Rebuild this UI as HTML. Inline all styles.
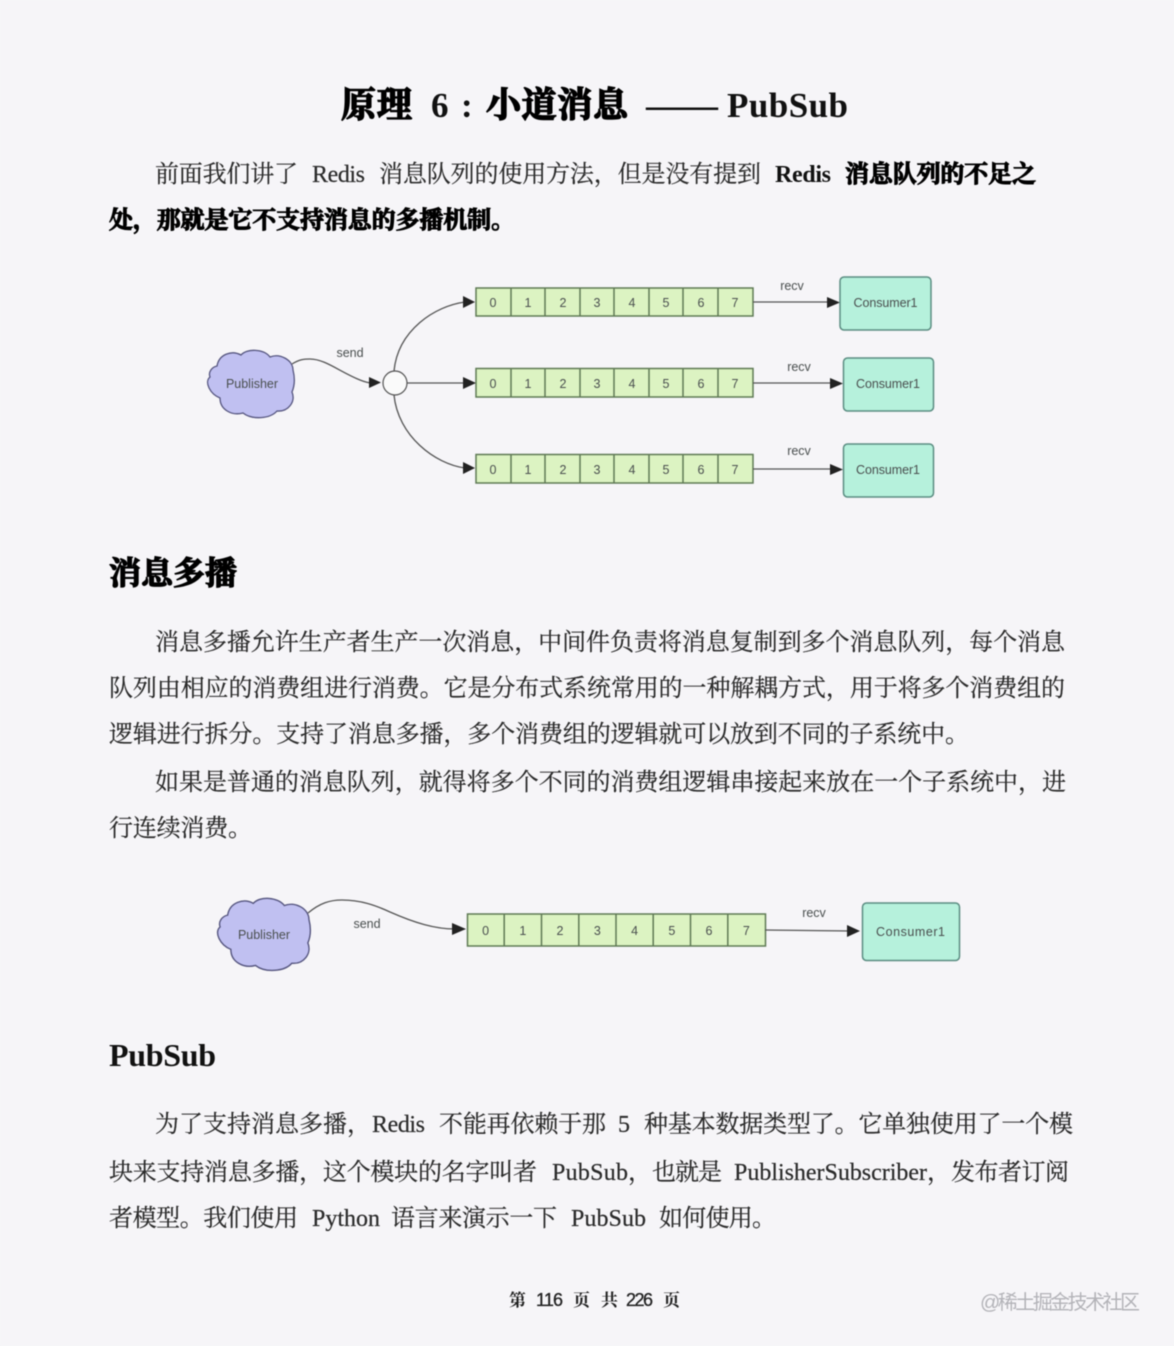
<!DOCTYPE html>
<html lang="zh">
<head>
<meta charset="utf-8">
<title>原理 6：小道消息 —— PubSub</title>
<style>
html,body{margin:0;padding:0;background:#f6f5f8;width:1174px;height:1346px;overflow:hidden}
svg{display:block;position:absolute;left:0;top:0;filter:blur(.4px)}
.b{font-family:"Liberation Serif","Noto Serif CJK SC",serif;font-size:24px;fill:#2a2a2a;stroke:#2a2a2a;stroke-width:.2px}
.l{font-family:"Liberation Serif",serif;font-size:24px;fill:#2a2a2a;stroke:#2a2a2a;stroke-width:.2px}
.s{font-family:"Liberation Serif","Noto Serif CJK SC",serif;font-size:24px;font-weight:700;fill:#000;stroke:#000;stroke-width:1px}
.sl{font-family:"Liberation Serif",serif;font-size:24px;font-weight:700;fill:#111}
.t{font-family:"Noto Serif CJK SC",serif;font-size:35px;font-weight:700;fill:#000;stroke:#000;stroke-width:1.4px}
.tl{font-family:"Liberation Serif",serif;font-size:35px;font-weight:700;fill:#111}
.h{font-family:"Noto Serif CJK SC",serif;font-size:32px;font-weight:700;fill:#000;stroke:#000;stroke-width:1.3px}
.hl{font-family:"Liberation Serif",serif;font-size:32px;font-weight:700;fill:#111}
.f{font-family:"Noto Serif CJK SC",serif;font-size:17px;font-weight:700;fill:#222}
.fn{font-family:"Liberation Sans",sans-serif;font-size:18px;fill:#222;stroke:#222;stroke-width:.3px}
.w{font-family:"Liberation Sans","Noto Sans CJK SC",sans-serif;font-size:20px;fill:#b3b3b8}
.d{font-family:"Liberation Sans",sans-serif;font-size:12.5px;fill:#4a4f4f;text-anchor:middle}
.q{fill:#dcf3c2;stroke:#5f7a55;stroke-width:1.5}
.v{stroke:#5f7a55;stroke-width:1.5}
.c{fill:#b6f1dc;stroke:#5b8d82;stroke-width:1.5}
.a{fill:none;stroke:#555;stroke-width:1.3}
.p{fill:#222}
.cl{fill:#c0c0f1;stroke:#55557f;stroke-width:1.3}
</style>
</head>
<body>
<svg width="1174" height="1346" viewBox="0 0 1174 1346" xmlns="http://www.w3.org/2000/svg">
<rect width="1174" height="1346" fill="#f6f5f8"/>

<!-- Title -->
<text class="t" x="341" y="117" textLength="71">原理</text>
<text class="tl" x="431" y="117">6</text>
<text class="tl" x="461" y="117">:</text>
<text class="t" x="486" y="117" textLength="142">小道消息</text>
<text class="tl" x="646" y="117" textLength="72" lengthAdjust="spacingAndGlyphs">——</text>
<text class="tl" x="727" y="117" textLength="121">PubSub</text>

<!-- Intro -->
<text class="b" x="155" y="182" textLength="143">前面我们讲了</text>
<text class="l" x="312" y="182" textLength="53">Redis</text>
<text class="b" x="379" y="182" textLength="382">消息队列的使用方法，但是没有提到</text>
<text class="sl" x="775" y="182" textLength="56">Redis</text>
<text class="s" x="845" y="182" textLength="191">消息队列的不足之</text>
<text class="s" x="109" y="228" textLength="406">处，那就是它不支持消息的多播机制。</text>

<!-- Diagram 1 -->
<path class="cl" d="M217 366C219 354 232 350 241 355C247 348 264 349 270 357C280 353 293 360 293 370C295 378 295 385 292 392C296 402 288 412 277 411C270 419 252 420 243 413C232 416 220 410 220 398C210 394 204 382 210 377C208 372 212 367 217 366Z"/>
<text class="d" x="252" y="388">Publisher</text>
<path class="a" d="M292 364C300 359 305 359 310 359C325 359 340 372 360 380C365 382 368 383 372 383"/>
<polygon class="p" points="369,377 381,382.500 369,388"/>
<text class="d" x="350" y="357">send</text>
<circle cx="395" cy="383" r="12" fill="#fafafa" stroke="#555" stroke-width="1.2"/>
<path class="a" d="M394 371C398 330 435 306 465 302"/>
<polygon class="p" points="463,296 475,302 463,308"/>
<path class="a" d="M407 383H465"/>
<polygon class="p" points="463,377 476,383 463,389"/>
<path class="a" d="M394 395C398 436 435 464 465 468"/>
<polygon class="p" points="463,462 475,468 463,474"/>

<g>
<rect class="q" x="476" y="288" width="277" height="28"/>
<path class="v" d="M511 288V316M545 288V316M580 288V316M614 288V316M649 288V316M683 288V316M718 288V316"/>
<text class="d" x="493" y="307">0</text><text class="d" x="528" y="307">1</text><text class="d" x="563" y="307">2</text><text class="d" x="597" y="307">3</text><text class="d" x="632" y="307">4</text><text class="d" x="666" y="307">5</text><text class="d" x="701" y="307">6</text><text class="d" x="735" y="307">7</text>
<rect class="q" x="476" y="368.500" width="277" height="28.500"/>
<path class="v" d="M511 369V397M545 369V397M580 369V397M614 369V397M649 369V397M683 369V397M718 369V397"/>
<text class="d" x="493" y="388">0</text><text class="d" x="528" y="388">1</text><text class="d" x="563" y="388">2</text><text class="d" x="597" y="388">3</text><text class="d" x="632" y="388">4</text><text class="d" x="666" y="388">5</text><text class="d" x="701" y="388">6</text><text class="d" x="735" y="388">7</text>
<rect class="q" x="476" y="454.500" width="277" height="28.500"/>
<path class="v" d="M511 455V483M545 455V483M580 455V483M614 455V483M649 455V483M683 455V483M718 455V483"/>
<text class="d" x="493" y="474">0</text><text class="d" x="528" y="474">1</text><text class="d" x="563" y="474">2</text><text class="d" x="597" y="474">3</text><text class="d" x="632" y="474">4</text><text class="d" x="666" y="474">5</text><text class="d" x="701" y="474">6</text><text class="d" x="735" y="474">7</text>
</g>

<path class="a" d="M753 302H830"/><polygon class="p" points="827,297 840,302.500 827,308"/>
<path class="a" d="M753 383H833"/><polygon class="p" points="830,378 843,383.500 830,389"/>
<path class="a" d="M753 469H833"/><polygon class="p" points="830,464 843,469.500 830,475"/>
<text class="d" x="792" y="290" font-size="11">recv</text>
<text class="d" x="799" y="371" font-size="11">recv</text>
<text class="d" x="799" y="455" font-size="11">recv</text>

<rect class="c" x="840" y="277" width="91" height="53" rx="4"/>
<text class="d" x="885.500" y="307" textLength="64">Consumer1</text>
<rect class="c" x="843.500" y="358" width="90" height="53" rx="4"/>
<text class="d" x="888" y="388" textLength="64">Consumer1</text>
<rect class="c" x="843.500" y="444" width="90" height="53" rx="4"/>
<text class="d" x="888" y="474" textLength="64">Consumer1</text>

<!-- Section 1 -->
<text class="h" x="109" y="584" textLength="128">消息多播</text>
<text class="b" x="155" y="650" textLength="910">消息多播允许生产者生产一次消息，中间件负责将消息复制到多个消息队列，每个消息</text>
<text class="b" x="109" y="696" textLength="956">队列由相应的消费组进行消费。它是分布式系统常用的一种解耦方式，用于将多个消费组的</text>
<text class="b" x="109" y="742" textLength="860">逻辑进行拆分。支持了消息多播，多个消费组的逻辑就可以放到不同的子系统中。</text>
<text class="b" x="155" y="790" textLength="911">如果是普通的消息队列，就得将多个不同的消费组逻辑串接起来放在一个子系统中，进</text>
<text class="b" x="109" y="836" textLength="143">行连续消费。</text>

<!-- Diagram 2 -->
<g transform="translate(218 898) scale(1.07) translate(-208 -350)">
<path class="cl" d="M217 366C219 354 232 350 241 355C247 348 264 349 270 357C280 353 293 360 293 370C295 378 295 385 292 392C296 402 288 412 277 411C270 419 252 420 243 413C232 416 220 410 220 398C210 394 204 382 210 377C208 372 212 367 217 366Z"/>
</g>
<text class="d" x="264" y="939" font-size="13.500">Publisher</text>
<path class="a" d="M308 913C320 903 330 900 342 900C360 900 375 905 390 912C415 923 435 929 455 929"/>
<polygon class="p" points="452,923 466,929 452,935"/>
<text class="d" x="367" y="928" font-size="13">send</text>

<rect class="q" x="467.500" y="914" width="298" height="32"/>
<path class="v" d="M504.200 914V946M541.500 914V946M578.800 914V946M616 914V946M653.200 914V946M690.500 914V946M727.800 914V946"/>
<text class="d" x="485.600" y="935" font-size="13.500">0</text><text class="d" x="522.800" y="935" font-size="13.500">1</text><text class="d" x="560" y="935" font-size="13.500">2</text><text class="d" x="597.400" y="935" font-size="13.500">3</text><text class="d" x="634.600" y="935" font-size="13.500">4</text><text class="d" x="671.800" y="935" font-size="13.500">5</text><text class="d" x="709" y="935" font-size="13.500">6</text><text class="d" x="746.300" y="935" font-size="13.500">7</text>

<path class="a" d="M765 930L850 931"/><polygon class="p" points="847,925 860,931 847,937"/>
<text class="d" x="814" y="917" font-size="11.500">recv</text>
<rect class="c" x="862.500" y="903" width="97" height="57.500" rx="4"/>
<text class="d" x="910.500" y="936" font-size="13.500" textLength="69">Consumer1</text>

<!-- Section 2 -->
<text class="hl" x="109" y="1066" textLength="107">PubSub</text>
<text class="b" x="155" y="1132" textLength="216">为了支持消息多播，</text>
<text class="l" x="372" y="1132" textLength="53">Redis</text>
<text class="b" x="439" y="1132" textLength="167">不能再依赖于那</text>
<text class="l" x="618" y="1132">5</text>
<text class="b" x="644" y="1132" textLength="429">种基本数据类型了。它单独使用了一个模</text>
<text class="b" x="109" y="1180" textLength="428">块来支持消息多播，这个模块的名字叫者</text>
<text class="l" x="552" y="1180" textLength="76">PubSub</text>
<text class="b" x="628" y="1180">，</text>
<text class="b" x="652" y="1180" textLength="70">也就是</text>
<text class="l" x="734" y="1180" textLength="193">PublisherSubscriber</text>
<text class="b" x="927" y="1180">，</text>
<text class="b" x="951" y="1180" textLength="118">发布者订阅</text>
<text class="b" x="109" y="1226" textLength="189">者模型。我们使用</text>
<text class="l" x="312" y="1226" textLength="68">Python</text>
<text class="b" x="391" y="1226" textLength="166">语言来演示一下</text>
<text class="l" x="571" y="1226" textLength="75">PubSub</text>
<text class="b" x="659" y="1226" textLength="117">如何使用。</text>

<!-- Footer -->
<text class="f" x="509" y="1306">第</text>
<text class="fn" x="536" y="1306" textLength="27">116</text>
<text class="f" x="573" y="1306">页</text>
<text class="f" x="601" y="1306">共</text>
<text class="fn" x="626" y="1306" textLength="27">226</text>
<text class="f" x="663" y="1306">页</text>
<text class="w" x="980" y="1309" textLength="160">@稀土掘金技术社区</text>
</svg>
</body>
</html>
